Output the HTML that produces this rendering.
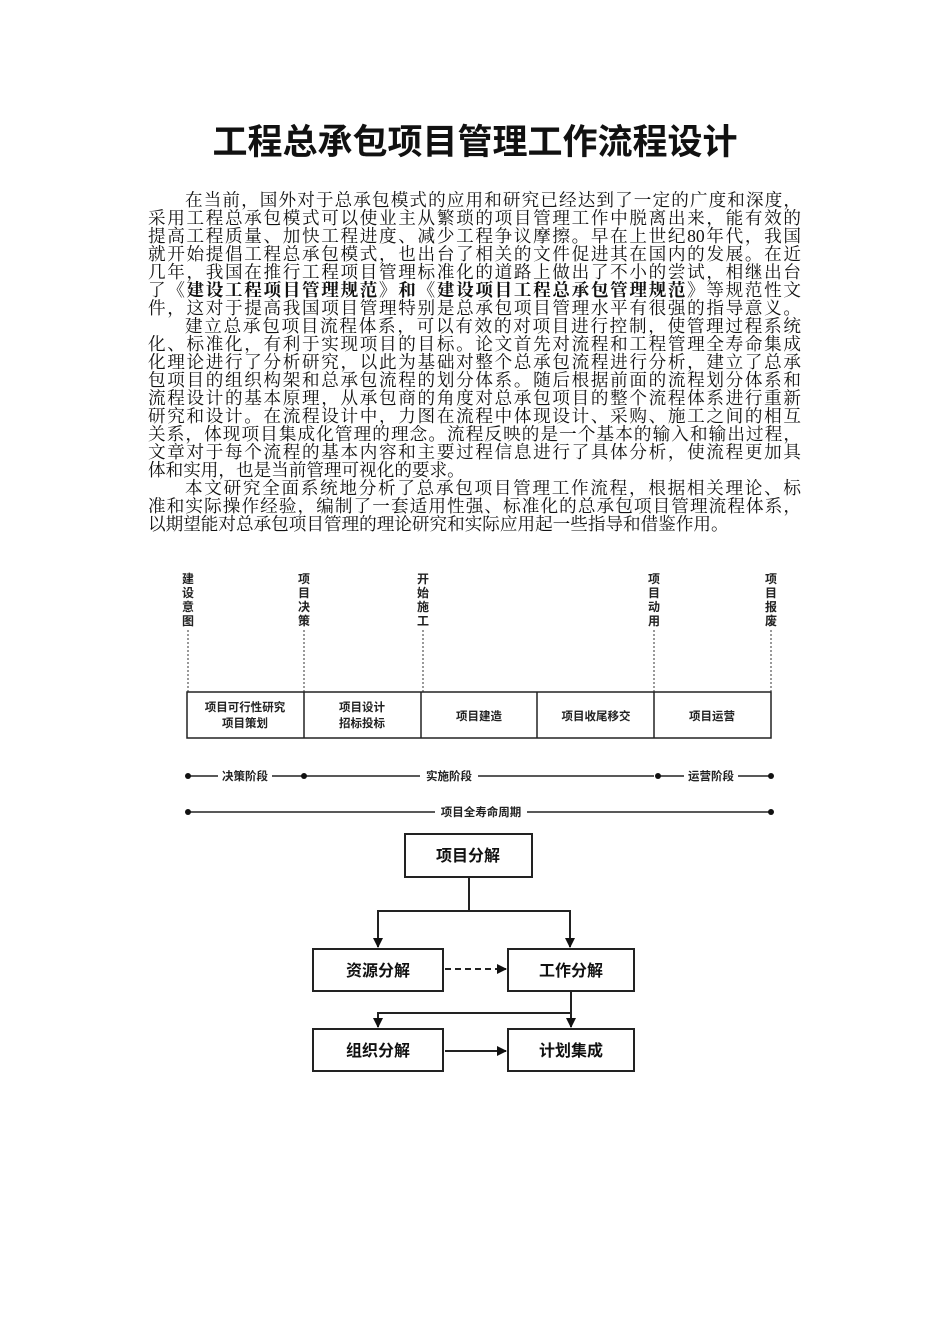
<!DOCTYPE html>
<html><head><meta charset="utf-8"><style>
body{margin:0;width:950px;height:1344px;background:#fff;position:relative;overflow:hidden;font-family:"Liberation Serif","Noto Serif CJK SC",serif;color:#111}
h1{position:absolute;left:0;width:950px;top:120px;margin:0;text-align:center;font:bold 35px/46px "Liberation Sans","Noto Sans CJK SC",sans-serif;letter-spacing:0px}
#txt{position:absolute;left:148px;top:191px;width:653px;font-size:17.6px;line-height:18px}
#txt div{text-align:justify;text-align-last:justify;white-space:nowrap;height:18px}
#txt div.i{padding-left:37px}
#txt div.n{text-align-last:left}
svg{position:absolute;left:0;top:0}
</style></head><body>
<h1>工程总承包项目管理工作流程设计</h1>
<div id="txt">
<div class="i">在当前，国外对于总承包模式的应用和研究已经达到了一定的广度和深度，</div>
<div>采用工程总承包模式可以使业主从繁琐的项目管理工作中脱离出来，能有效的</div>
<div>提高工程质量、加快工程进度、减少工程争议摩擦。早在上世纪80年代，我国</div>
<div>就开始提倡工程总承包模式，也出台了相关的文件促进其在国内的发展。在近</div>
<div>几年，我国在推行工程项目管理标准化的道路上做出了不小的尝试，相继出台</div>
<div>了<b>《建设工程项目管理规范》和《建设项目工程总承包管理规范》</b>等规范性文</div>
<div>件，这对于提高我国项目管理特别是总承包项目管理水平有很强的指导意义。</div>
<div class="i">建立总承包项目流程体系，可以有效的对项目进行控制，使管理过程系统</div>
<div>化、标准化，有利于实现项目的目标。论文首先对流程和工程管理全寿命集成</div>
<div>化理论进行了分析研究，以此为基础对整个总承包流程进行分析，建立了总承</div>
<div>包项目的组织构架和总承包流程的划分体系。随后根据前面的流程划分体系和</div>
<div>流程设计的基本原理，从承包商的角度对总承包项目的整个流程体系进行重新</div>
<div>研究和设计。在流程设计中，力图在流程中体现设计、采购、施工之间的相互</div>
<div>关系，体现项目集成化管理的理念。流程反映的是一个基本的输入和输出过程，</div>
<div>文章对于每个流程的基本内容和主要过程信息进行了具体分析，使流程更加具</div>
<div class="n">体和实用，也是当前管理可视化的要求。</div>
<div class="i">本文研究全面系统地分析了总承包项目管理工作流程，根据相关理论、标</div>
<div>准和实际操作经验，编制了一套适用性强、标准化的总承包项目管理流程体系，</div>
<div class="n">以期望能对总承包项目管理的理论研究和实际应用起一些指导和借鉴作用。</div>
</div>
<svg width="950" height="1344" font-family="Liberation Sans,Noto Sans CJK SC,sans-serif" font-weight="bold">
<defs><marker id="a" markerWidth="10" markerHeight="10" refX="9" refY="5" orient="auto" markerUnits="userSpaceOnUse"><path d="M0,0L10,5L0,10z" fill="#111"/></marker></defs>
<g font-size="12" text-anchor="middle" fill="#222">
<text x="188" y="583">建</text><text x="188" y="597">设</text><text x="188" y="611">意</text><text x="188" y="625">图</text>
<text x="304" y="583">项</text><text x="304" y="597">目</text><text x="304" y="611">决</text><text x="304" y="625">策</text>
<text x="423" y="583">开</text><text x="423" y="597">始</text><text x="423" y="611">施</text><text x="423" y="625">工</text>
<text x="654" y="583">项</text><text x="654" y="597">目</text><text x="654" y="611">动</text><text x="654" y="625">用</text>
<text x="771" y="583">项</text><text x="771" y="597">目</text><text x="771" y="611">报</text><text x="771" y="625">废</text>
</g>
<g stroke="#333" stroke-width="1" stroke-dasharray="2,2">
<line x1="188" y1="630" x2="188" y2="692"/><line x1="304" y1="630" x2="304" y2="692"/><line x1="423" y1="630" x2="423" y2="692"/><line x1="654" y1="630" x2="654" y2="692"/><line x1="771" y1="630" x2="771" y2="692"/>
</g>
<g stroke="#222" stroke-width="1.5" fill="none">
<rect x="187" y="692" width="584" height="46"/>
<line x1="304" y1="692" x2="304" y2="738"/><line x1="421" y1="692" x2="421" y2="738"/><line x1="537" y1="692" x2="537" y2="738"/><line x1="654" y1="692" x2="654" y2="738"/>
</g>
<g font-size="11.5" text-anchor="middle" fill="#222">
<text x="245" y="711">项目可行性研究</text><text x="245" y="727">项目策划</text>
<text x="362" y="711">项目设计</text><text x="362" y="727">招标投标</text>
<text x="479" y="720">项目建造</text><text x="596" y="720">项目收尾移交</text><text x="712" y="720">项目运营</text>
</g>
<g stroke="#222" stroke-width="1.5">
<line x1="188" y1="776" x2="218" y2="776"/><line x1="272" y1="776" x2="420" y2="776" /><line x1="478" y1="776" x2="654" y2="776"/>
<line x1="658" y1="776" x2="684" y2="776"/><line x1="738" y1="776" x2="771" y2="776"/>
<line x1="188" y1="812" x2="435" y2="812"/><line x1="527" y1="812" x2="771" y2="812"/>
</g>
<g fill="#111"><circle cx="188" cy="776" r="3"/><circle cx="304" cy="776" r="3"/><circle cx="658" cy="776" r="3"/><circle cx="771" cy="776" r="3"/><circle cx="188" cy="812" r="3"/><circle cx="771" cy="812" r="3"/></g>
<g font-size="11.5" text-anchor="middle" fill="#222">
<text x="245" y="780">决策阶段</text><text x="449" y="780">实施阶段</text><text x="711" y="780">运营阶段</text><text x="481" y="816">项目全寿命周期</text>
</g>
<g stroke="#222" stroke-width="2" fill="none">
<rect x="405" y="834" width="127" height="43"/>
<rect x="313" y="949" width="130" height="42"/><rect x="508" y="949" width="126" height="42"/>
<rect x="313" y="1029" width="130" height="42"/><rect x="508" y="1029" width="126" height="42"/>
<line x1="469" y1="877" x2="469" y2="911"/><line x1="377" y1="911" x2="571" y2="911"/>
<line x1="378" y1="911" x2="378" y2="947" marker-end="url(#a)"/><line x1="570" y1="911" x2="570" y2="947" marker-end="url(#a)"/>
<line x1="445" y1="969" x2="506" y2="969" stroke-dasharray="6,4" marker-end="url(#a)"/>
<line x1="571" y1="991" x2="571" y2="1027" marker-end="url(#a)"/><line x1="377" y1="1013" x2="571" y2="1013"/>
<line x1="378" y1="1013" x2="378" y2="1027" marker-end="url(#a)"/>
<line x1="445" y1="1051" x2="506" y2="1051" marker-end="url(#a)"/>
</g>
<g font-size="16" text-anchor="middle" fill="#111">
<text x="468" y="861">项目分解</text><text x="378" y="976">资源分解</text><text x="571" y="976">工作分解</text>
<text x="378" y="1056">组织分解</text><text x="571" y="1056">计划集成</text>
</g>
</svg>
</body></html>
